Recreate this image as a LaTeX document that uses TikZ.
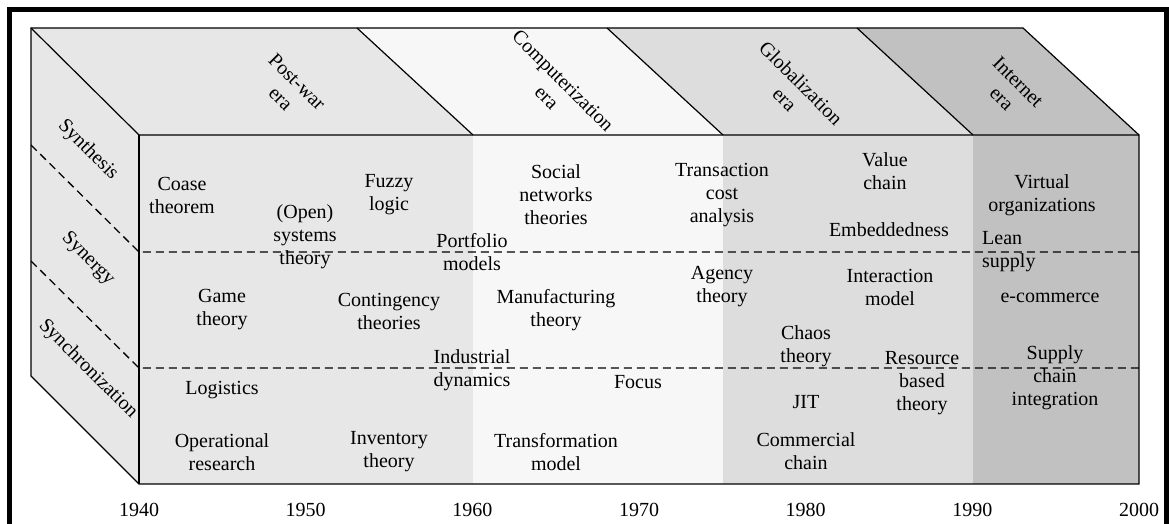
\documentclass[tikz,border=0pt]{standalone}
\usepackage{fontspec}
\setmainfont{Liberation Serif}
\definecolor{postwar}{gray}{0.905}
\definecolor{comput}{gray}{0.97}
\definecolor{global}{gray}{0.865}
\definecolor{inet}{gray}{0.755}
\begin{document}
\begin{tikzpicture}[x=1pt,y=-1pt,
  lbl/.style={font=\fontsize{20}{23}\selectfont,align=center,inner sep=0pt},
  edge/.style={draw=black,line width=1.2pt},
  lvl/.style={dash pattern=on 8pt off 5pt,line width=1.3pt}]
\useasboundingbox (0,0) rectangle (1169,524);
% top face, one band per era
\fill[postwar] (31,28) -- (357,28) -- (473,135) -- (139,135) -- cycle;
\fill[comput] (357,28) -- (607,28) -- (723,135) -- (473,135) -- cycle;
\fill[global] (607,28) -- (857,28) -- (973,135) -- (723,135) -- cycle;
\fill[inet] (857,28) -- (1023,28) -- (1139,135) -- (973,135) -- cycle;
% front face
\fill[postwar] (139,135) rectangle (473,484);
\fill[comput] (473,135) rectangle (723,484);
\fill[global] (723,135) rectangle (973,484);
\fill[inet] (973,135) rectangle (1139,484);
% side face
\fill[postwar] (31,28) -- (139,135) -- (139,484) -- (31,376) -- cycle;
\draw[lvl] (31,145) -- (139,252) -- (1139,252);
\draw[lvl] (31,261) -- (139,368) -- (1139,368);
\draw[edge] (31,28) -- (1023,28) -- (1139,135) -- (1139,484) -- (139,484) -- (31,376) -- cycle;
\draw[edge] (31,28) -- (139,135) -- (1139,135);
\draw[edge] (139,135) -- (139,484);
\draw[edge] (357,28) -- (473,135);
\draw[edge] (607,28) -- (723,135);
\draw[edge] (857,28) -- (973,135);
% eras
\node[lbl,rotate=-45] (postw) at (289,90) {Post-war\\era};
\node[lbl,rotate=-45] (compu) at (555,89) {Computerization\\era};
\node[lbl,rotate=-45] (globa) at (793,91) {Globalization\\era};
\node[lbl,rotate=-45] (inter) at (1010,90) {Internet\\era};
% levels
\node[lbl,rotate=-45] (synth) at (88,150) {Synthesis};
\node[lbl,rotate=-45] (syner) at (88,259) {Synergy};
\node[lbl,rotate=-45] (synch) at (88,369) {Synchronization};
% theories
\node[lbl] (coase) at (182,195) {Coase\\theorem};
\node[lbl] (opensys) at (305,237) {(Open)\\systems\\theory};
\node[lbl] (fuzzy) at (389,195) {Fuzzy\\logic};
\node[lbl] (portf) at (472,252) {Portfolio\\models};
\node[lbl] (social) at (556,195) {Social\\networks\\theories};
\node[lbl] (transc) at (722,195) {Transaction\\cost\\analysis};
\node[lbl] (value) at (885,171) {Value\\chain};
\node[lbl] (embed) at (889,230) {Embeddedness};
\node[lbl] (virtual) at (1042,195) {Virtual\\organizations};
\node[lbl,align=left,anchor=west] (lean) at (982,252) {Lean\\supply};
\node[lbl] (game) at (222,310) {Game\\theory};
\node[lbl] (conting) at (389,311) {Contingency\\theories};
\node[lbl] (manuf) at (556,310) {Manufacturing\\theory};
\node[lbl] (agency) at (722,287) {Agency\\theory};
\node[lbl] (interact) at (890,287) {Interaction\\model};
\node[lbl] (ecomm) at (1050,298) {e-commerce};
\node[lbl] (chaos) at (806,346) {Chaos\\theory};
\node[lbl] (indus) at (472,370) {Industrial\\dynamics};
\node[lbl] (focus) at (638,382) {Focus};
\node[lbl] (resource) at (922,383) {Resource\\based\\theory};
\node[lbl] (supply) at (1055,378) {Supply\\chain\\integration};
\node[lbl] (logist) at (222,390) {Logistics};
\node[lbl] (jit) at (806,402) {JIT};
\node[lbl] (operat) at (222,452) {Operational\\research};
\node[lbl] (invent) at (389,452) {Inventory\\theory};
\node[lbl] (transf) at (556,452) {Transformation\\model};
\node[lbl] (commerc) at (806,451) {Commercial\\chain};
% years
\foreach \yr [count=\i from 0] in {1940,1950,...,2000}
  \node[lbl] (y\yr) at ({139+166.67*\i},510) {\yr};
\draw[line width=5pt] (9.5,524) -- (9.5,9.5) -- (1166.5,9.5) -- (1166.5,524);
\end{tikzpicture}
\end{document}
